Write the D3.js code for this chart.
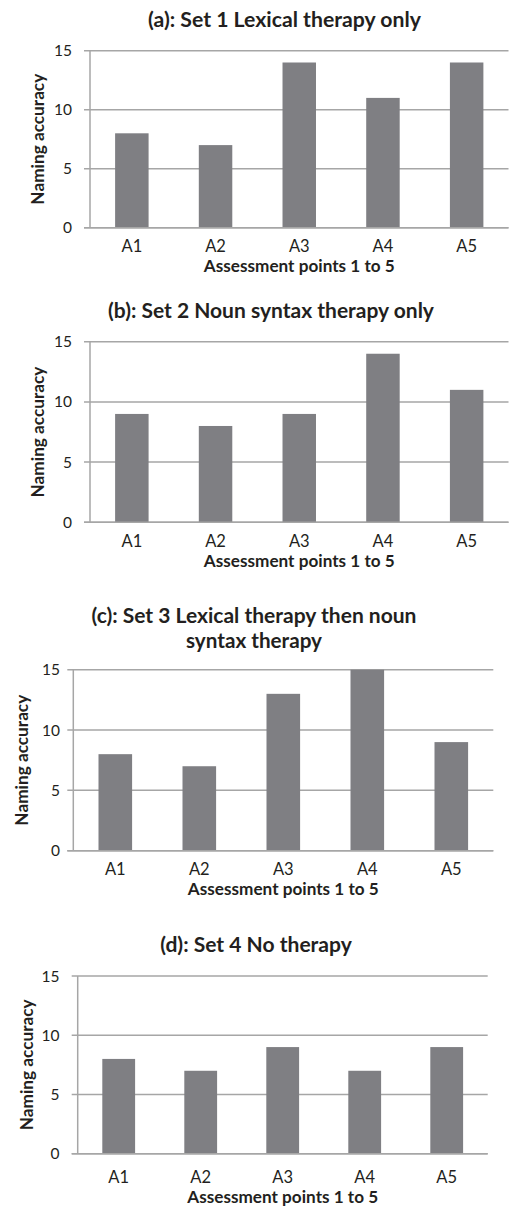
<!DOCTYPE html>
<html><head><meta charset="utf-8">
<script src="https://cdn.jsdelivr.net/npm/d3@7"></script>
<style>body{margin:0;background:#fff}svg{display:block}</style>
</head><body>
<svg id="c" width="509" height="1208"></svg>
<script>
const categories = ["A1","A2","A3","A4","A5"];
const set1Values = [8,7,14,11,14];
const set2Values = [9,8,9,14,11];
const set3Values = [8,7,13,15,9];
const set4Values = [8,7,9,7,9];
const yTickValues = [0,5,10,15];
const titles = [
  ["(a): Set 1 Lexical therapy only"],
  ["(b): Set 2 Noun syntax therapy only"],
  ["(c): Set 3 Lexical therapy then noun","syntax therapy"],
  ["(d): Set 4 No therapy"]
];
const yAxisTitle = "Naming accuracy";
const xAxisTitle = "Assessment points 1 to 5";

const layouts = [
  {values:set1Values, left:90, right:508.5, top:50.7, bottom:227.7, tx:284.5, ty:[27], tw:[273], ylx:38, tlx:72, tb:252, xb:271.7},
  {values:set2Values, left:90, right:508.5, top:341.7, bottom:522.3, tx:271, ty:[318.3], tw:[326], ylx:38, tlx:72, tb:547.3, xb:566.7},
  {values:set3Values, left:73.3, right:493.3, top:669.7, bottom:850.7, tx:254, ty:[623.3,648.3], tw:[325,136], ylx:21.7, tlx:60, tb:875, xb:895},
  {values:set4Values, left:77.7, right:487.7, top:976, bottom:1153.7, tx:256, ty:[951.7], tw:[191.7], ylx:26.7, tlx:59.5, tb:1183.3, xb:1203.3}
];

const svg = d3.select("#c");
const FONT = "Lato, 'Open Sans', sans-serif";
const gridColor = "#a6a6a6";
const barColor = "#7f7f83";
const textColor = "#231f20";

function fit(sel, target){
  const fs = +sel.attr("font-size");
  const w = sel.node().getComputedTextLength();
  if (w > 0) sel.attr("font-size", (fs*target/w).toFixed(2));
}

layouts.forEach((L,i)=>{
  const g = svg.append("g");
  const x = d3.scaleBand().domain(categories).range([L.left,L.right]).paddingInner(0.6).paddingOuter(0.3);
  const y = d3.scaleLinear().domain([0,15]).range([L.bottom,L.top]);

  g.selectAll("line.grid").data(yTickValues).join("line")
    .attr("x1",L.left-6).attr("x2",L.right)
    .attr("y1",d=>y(d)).attr("y2",d=>y(d))
    .attr("stroke",gridColor).attr("stroke-width",1.5);
  g.append("line").attr("x1",L.left).attr("x2",L.left).attr("y1",L.top).attr("y2",L.bottom)
    .attr("stroke",gridColor).attr("stroke-width",1.5);

  g.selectAll("rect").data(L.values).join("rect")
    .attr("x",(d,j)=>x(categories[j])).attr("width",x.bandwidth())
    .attr("y",d=>y(d)).attr("height",d=>y(0)-y(d))
    .attr("fill",barColor);

  g.append("line").attr("x1",L.left-6).attr("x2",L.right).attr("y1",y(0)).attr("y2",y(0))
    .attr("stroke",gridColor).attr("stroke-width",1.5);

  g.selectAll("text.yt").data(yTickValues).join("text")
    .attr("x",L.tlx).attr("y",d=>y(d)).attr("dy","0.36em")
    .attr("text-anchor","end").attr("font-family",FONT).attr("font-size",15.5)
    .attr("fill",textColor).text(d=>d);

  g.selectAll("text.xt").data(categories).join("text")
    .attr("x",d=>x(d)+x.bandwidth()/2).attr("y",L.tb)
    .attr("text-anchor","middle").attr("font-family",FONT).attr("font-size",16.5)
    .attr("fill",textColor).text(d=>d);

  const xt = g.append("text").attr("x",(L.left+L.right)/2).attr("y",L.xb)
    .attr("text-anchor","middle").attr("font-family",FONT).attr("font-size",15).attr("font-weight","bold")
    .attr("fill",textColor).text(xAxisTitle);
  fit(xt,191);

  const yt = g.append("text").attr("transform",`translate(${L.ylx},${(L.top+L.bottom)/2}) rotate(-90)`)
    .attr("dy","0.35em")
    .attr("text-anchor","middle").attr("font-family",FONT).attr("font-size",15).attr("font-weight","bold")
    .attr("fill",textColor).text(yAxisTitle);
  fit(yt,131);

  titles[i].forEach((t,k)=>{
    const tt = g.append("text").attr("x",L.tx).attr("y",L.ty[k])
      .attr("text-anchor","middle").attr("font-family",FONT).attr("font-size",17.5).attr("font-weight","bold")
      .attr("fill",textColor).text(t);
    fit(tt,L.tw[k]);
  });
});
</script>
</body></html>
